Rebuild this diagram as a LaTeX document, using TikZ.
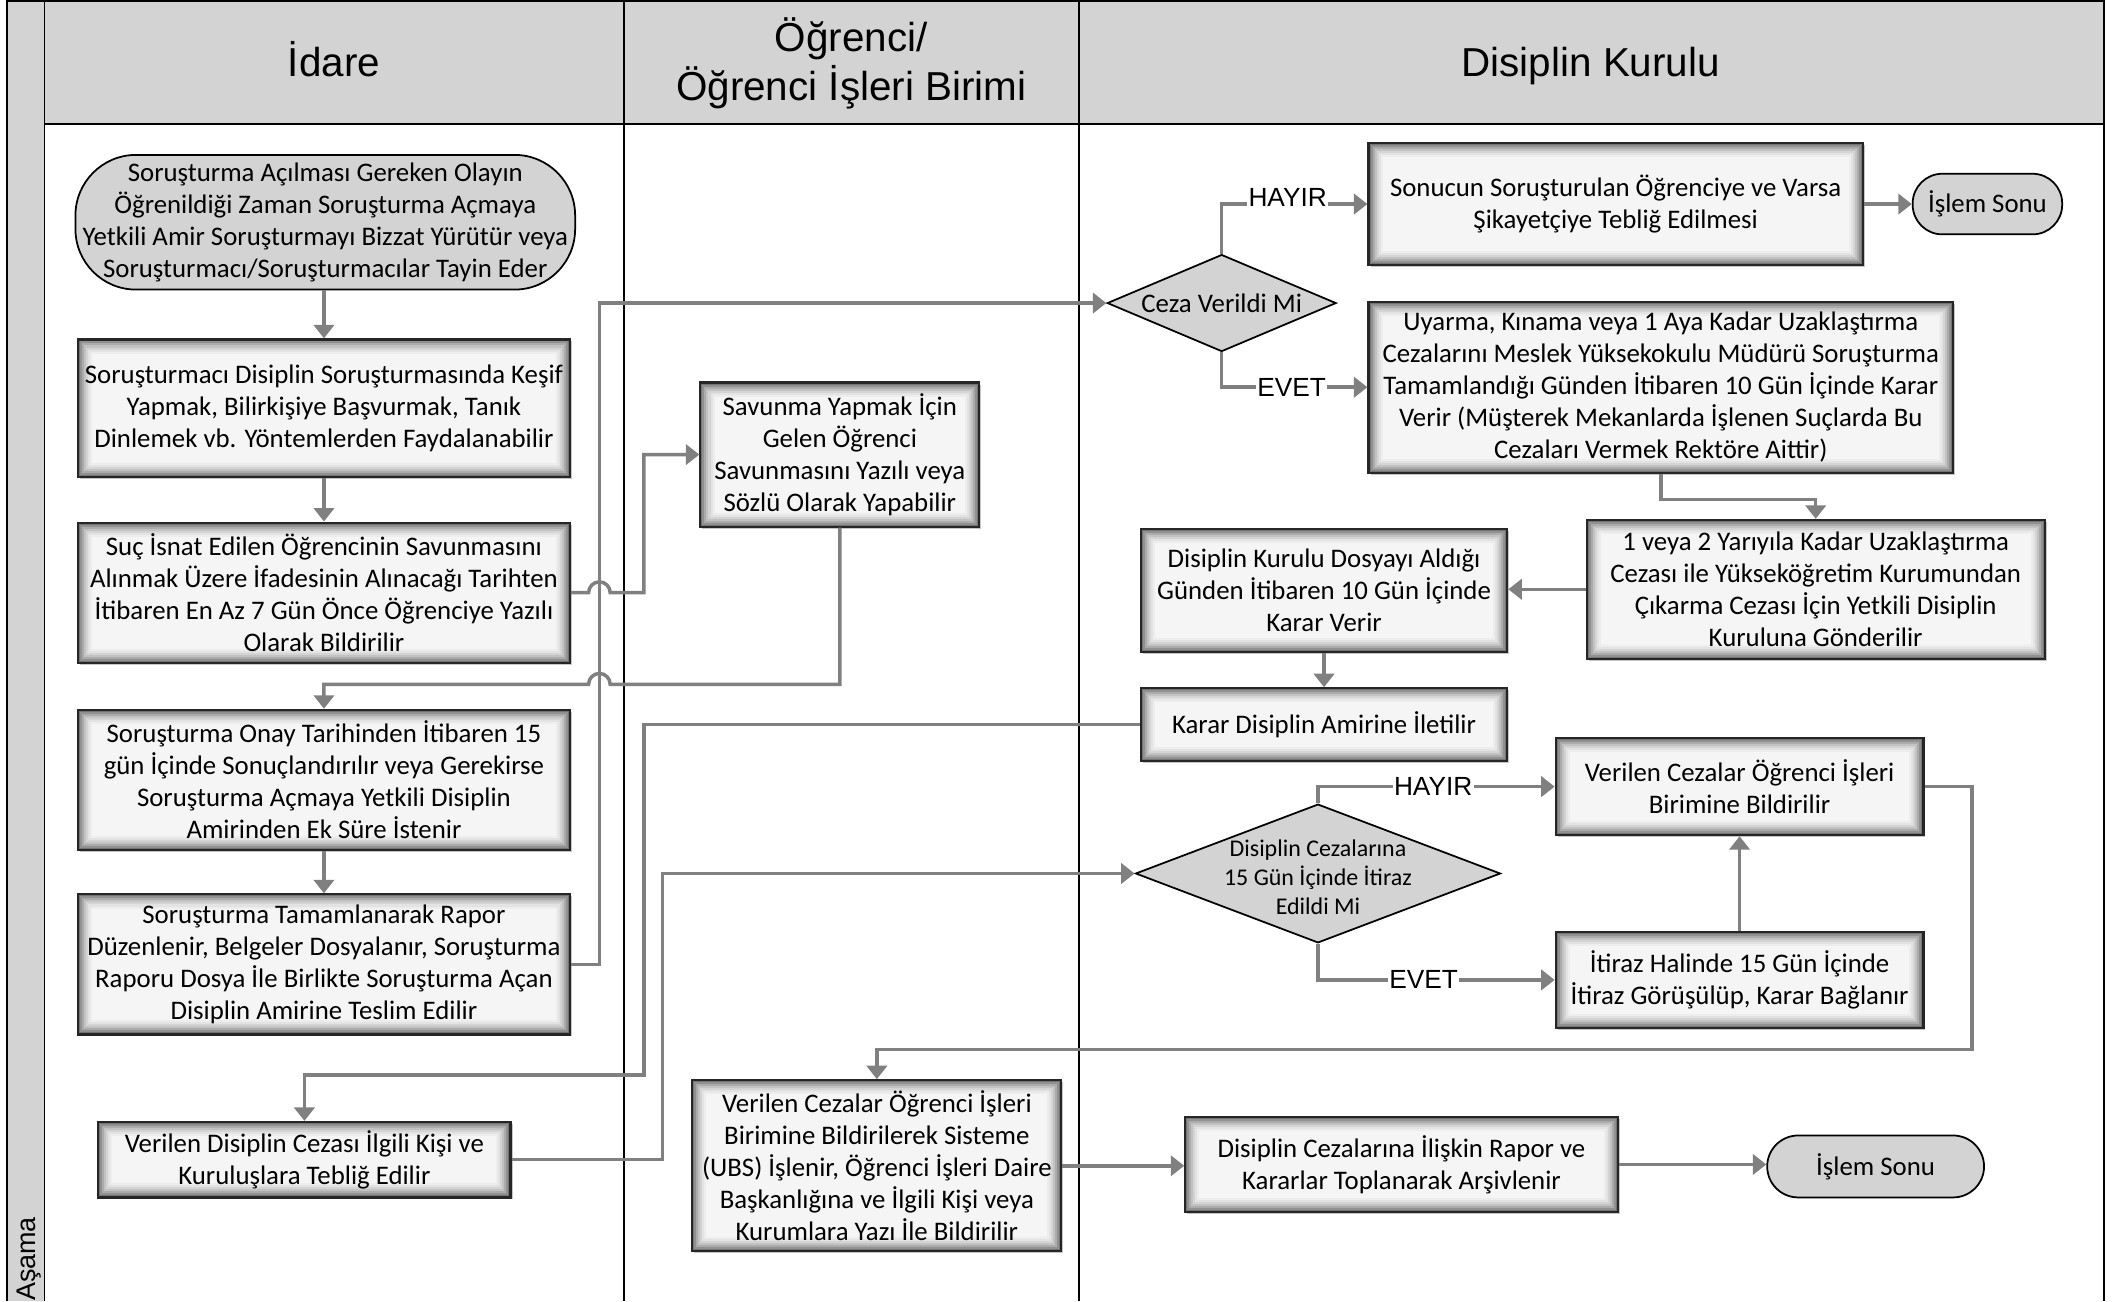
\documentclass[tikz,border=0pt]{standalone}
\usepackage{fontspec}
\setmainfont{Carlito}
\newfontfamily\hfont{Liberation Sans}
\usetikzlibrary{arrows.meta,shapes.geometric,shadows,calc}
\definecolor{hdr}{RGB}{211,211,211}
\definecolor{lgray}{RGB}{128,128,128}
\newcommand{\boxfont}{\fontsize{19.9}{23.7}\selectfont}
\newcommand{\smallbox}{\fontsize{17.8}{21.6}\selectfont}
\newcommand{\headfont}{\hfont\fontsize{30}{36}\selectfont}
\newcommand{\lblfont}{\hfont\fontsize{19.5}{22}\selectfont}
\begin{document}
\begin{tikzpicture}[x=1pt,y=-1pt,
  box/.style={draw=black!85, line width=1.6pt, inner sep=0pt, align=center, font=\boxfont,
    path picture={
      \foreach \dd/\cc in {0/55,1.5/43,3/33,4.5/24,6/17,7.5/11,9/7,10.5/4}{
        \fill[black!\cc] ([xshift=\dd pt,yshift=-\dd pt]path picture bounding box.north west)
          rectangle ([xshift=-\dd pt,yshift=\dd pt]path picture bounding box.south east);
      }
    },
    drop shadow={shadow xshift=1.5pt, shadow yshift=-1.5pt, opacity=0.45}},
  term/.style={draw=black, line width=1.3pt, fill=hdr, rounded corners=#1, inner sep=0pt, align=center, font=\boxfont},
  dec/.style={diamond, draw=black, line width=1.3pt, fill=hdr, inner sep=0pt},
  dtext/.style={align=center, inner sep=0pt},
  flow/.style={draw=lgray, line width=2.6pt, -{Triangle[length=10pt,width=15pt]}},
  lbl/.style={font=\lblfont, fill=white, inner sep=1pt},
  lane/.style={draw=black, line width=1.3pt}
]
\useasboundingbox (0,0) rectangle (1568,966);
% header and side strip
\fill[hdr] (5,0) rectangle (1562,92);
\fill[hdr] (5,0) rectangle (33,966);
\draw[lane] (5,1) -- (1562,1);
\draw[lane] (5,0) -- (5,966);
\draw[lane] (33,0) -- (33,966);
\draw[lane] (463,0) -- (463,966);
\draw[lane] (801,0) -- (801,966);
\draw[lane] (1562,0) -- (1562,966);
\draw[lane] (33,92) -- (1562,92);
\node[font=\headfont, anchor=base] (hA) at (248,57) {İdare};
\node[font=\headfont, align=center] (hB) at (632,47) {Öğrenci/\\Öğrenci İşleri Birimi};
\node[font=\headfont, anchor=base] (hC) at (1181,57) {Disiplin Kurulu};
\node[font=\hfont\fontsize{20}{24}\selectfont, rotate=90, anchor=base west, inner sep=0pt] (asama) at (26,966) {Aşama};

% lane 1
\node[term=45pt, minimum width=371pt, minimum height=100pt] (A) at (241.5,165)
  {Soruşturma Açılması Gereken Olayın\\Öğrenildiği Zaman Soruşturma Açmaya\\Yetkili Amir Soruşturmayı Bizzat Yürütür veya\\Soruşturmacı/Soruşturmacılar Tayin Eder};
\node[box, minimum width=365pt, minimum height=102pt] (B) at (240.5,303)
  {Soruşturmacı Disiplin Soruşturmasında Keşif\\Yapmak, Bilirkişiye Başvurmak, Tanık\\Dinlemek vb. Yöntemlerden Faydalanabilir};
\node[box, minimum width=365pt, minimum height=104pt] (C) at (240.5,440)
  {Suç İsnat Edilen Öğrencinin Savunmasını\\Alınmak Üzere İfadesinin Alınacağı Tarihten\\İtibaren En Az 7 Gün Önce Öğrenciye Yazılı\\Olarak Bildirilir};
\node[box, minimum width=365pt, minimum height=104pt] (D) at (240.5,579)
  {Soruşturma Onay Tarihinden İtibaren 15\\gün İçinde Sonuçlandırılır veya Gerekirse\\Soruşturma Açmaya Yetkili Disiplin\\Amirinden Ek Süre İstenir};
\node[box, minimum width=365pt, minimum height=104pt] (E) at (240.5,716)
  {Soruşturma Tamamlanarak Rapor\\Düzenlenir, Belgeler Dosyalanır, Soruşturma\\Raporu Dosya İle Birlikte Soruşturma Açan\\Disiplin Amirine Teslim Edilir};
\node[box, minimum width=306pt, minimum height=56pt] (F) at (226,861)
  {Verilen Disiplin Cezası İlgili Kişi ve\\Kuruluşlara Tebliğ Edilir};

% lane 2
\node[box, minimum width=207pt, minimum height=107pt] (G) at (623.5,337.5)
  {Savunma Yapmak İçin\\Gelen Öğrenci\\Savunmasını Yazılı veya\\Sözlü Olarak Yapabilir};
\node[box, minimum width=274pt, minimum height=127pt] (H) at (651,865.5)
  {Verilen Cezalar Öğrenci İşleri\\Birimine Bildirilerek Sisteme\\(UBS) İşlenir, Öğrenci İşleri Daire\\Başkanlığına ve İlgili Kişi veya\\Kurumlara Yazı İle Bildirilir};

% lane 3
\node[box, minimum width=367pt, minimum height=91pt] (I) at (1199.5,151.5)
  {Sonucun Soruşturulan Öğrenciye ve Varsa\\Şikayetçiye Tebliğ Edilmesi};
\node[term=22pt, minimum width=111pt, minimum height=45pt] (T1) at (1475.5,151.5) {İşlem Sonu};
\node[dec, minimum width=170pt, minimum height=72pt] (d1) at (907,225) {};
\node[dtext, font=\boxfont] (d1t) at (907,225) {Ceza Verildi Mi};
\node[box, minimum width=434pt, minimum height=127pt] (J) at (1233,287.5)
  {Uyarma, Kınama veya 1 Aya Kadar Uzaklaştırma\\Cezalarını Meslek Yüksekokulu Müdürü Soruşturma\\Tamamlandığı Günden İtibaren 10 Gün İçinde Karar\\Verir (Müşterek Mekanlarda İşlenen Suçlarda Bu\\Cezaları Vermek Rektöre Aittir)};
\node[box, minimum width=340pt, minimum height=103pt] (K) at (1348,437.5)
  {1 veya 2 Yarıyıla Kadar Uzaklaştırma\\Cezası ile Yükseköğretim Kurumundan\\Çıkarma Cezası İçin Yetkili Disiplin\\Kuruluna Gönderilir};
\node[box, minimum width=272pt, minimum height=91pt] (L) at (983,438.5)
  {Disiplin Kurulu Dosyayı Aldığı\\Günden İtibaren 10 Gün İçinde\\Karar Verir};
\node[box, minimum width=272pt, minimum height=54pt] (M) at (983,538)
  {Karar Disiplin Amirine İletilir};
\node[box, minimum width=273pt, minimum height=72pt] (N) at (1291.5,584)
  {Verilen Cezalar Öğrenci İşleri\\Birimine Bildirilir};
\node[box, minimum width=273pt, minimum height=71pt] (O) at (1291.5,727.5)
  {İtiraz Halinde 15 Gün İçinde\\İtiraz Görüşülüp, Karar Bağlanır};
\node[dec, minimum width=271pt, minimum height=103pt] (d2) at (978.5,648.5) {};
\node[dtext, font=\smallbox] (d2t) at (978.5,651) {Disiplin Cezalarına\\15 Gün İçinde İtiraz\\Edildi Mi};
\node[box, minimum width=321pt, minimum height=71pt] (P) at (1040.5,864.5)
  {Disiplin Cezalarına İlişkin Rapor ve\\Kararlar Toplanarak Arşivlenir};
\node[term=23pt, minimum width=161pt, minimum height=46pt] (T2) at (1392.5,866) {İşlem Sonu};

% connectors
\draw[flow] (A.south -| B.north) -- (B.north);
\draw[flow] (B.south) -- (C.north);
\draw[flow] (C.east) -- (437,440) arc[start angle=180,end angle=360,radius=8] -- (478,440) |- (G.west);
\draw[flow] (G.south) -- (623.5,508) -- (453,508) arc[start angle=0,end angle=-180,radius=8] -- (240.5,508) -- (D.north);
\draw[flow] (D.south) -- (E.north);
\draw[flow] (E.east) -- (445,716) |- (d1.west);
\draw[flow] (d1.north) |- (I.west);
\draw[flow] (d1.south) |- (J.west);
\draw[flow] (I.east) -- (T1.west);
\draw[flow] (J.south) -- (1233,371) -| (K.north);
\draw[flow] (K.west) -- (K.west -| L.east);
\draw[flow] (L.south) -- (M.north);
\draw[flow] (M.west) -- (478,538) -- (478,798) -| (F.north);
\draw[flow] (F.east) -- (492,861) |- (d2.west);
\draw[flow] (d2.north) |- (N.west);
\draw[flow] (d2.south) |- (O.west);
\draw[flow] (O.north) -- (N.south);
\draw[flow] (N.east) -- (1464,584) -- (1464,779) -| (H.north);
\draw[flow] (H.east) -- (H.east -| P.west);
\draw[flow] (P.east) -- (P.east -| T2.west);

% labels
\node[lbl, anchor=base] (h1) at (956,153) {HAYIR};
\node[lbl] (e1) at (959,287.5) {EVET};
\node[lbl] (h2) at (1064,584) {HAYIR};
\node[lbl] (e2) at (1057,727.5) {EVET};
\end{tikzpicture}
\end{document}
